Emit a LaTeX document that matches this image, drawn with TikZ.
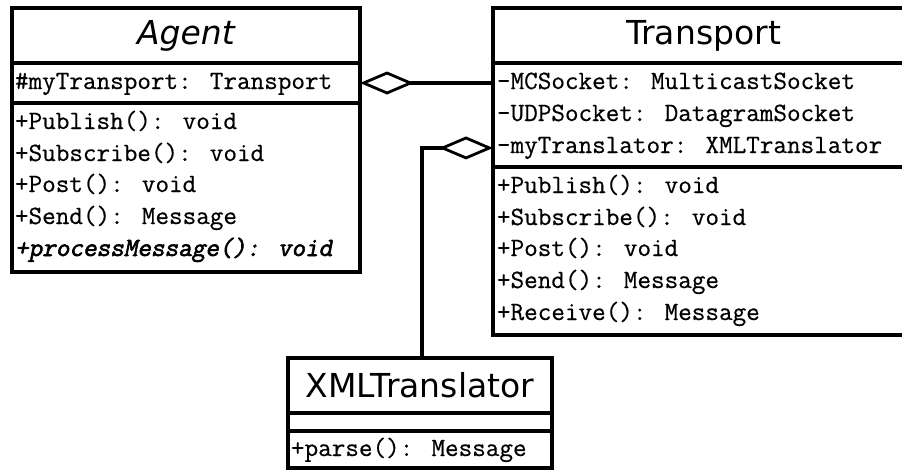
\documentclass[tikz,border=0pt]{standalone}
\usepackage{fontspec}
\usetikzlibrary{arrows.meta}
\newfontfamily\titlefont{DejaVu Sans}
\newfontfamily\memberfont[FakeBold=0.5]{Latin Modern Mono}
\newfontfamily\memberboldit[FakeBold=2.2, FakeSlant=0.2]{Latin Modern Mono}

\tikzset{
  umlbox/.style={draw, line width=3.2pt, rectangle, anchor=north west,
                 inner sep=0pt, outer sep=0pt},
  classname/.style={font=\titlefont\fontsize{33}{38}\selectfont},
  member/.style={anchor=base west, inner sep=0pt, outer sep=0pt,
                 font=\memberfont\fontsize{26.4}{30}\selectfont},
  aggregation/.style={line width=3.2pt,
    -{Diamond[open, length=54pt, width=23pt, line width=2.8pt]}},
}

\begin{document}
\begin{tikzpicture}[x=1pt, y=-1pt]
\useasboundingbox (0,0) rectangle (902,469);
\clip (0,0) rectangle (902,469);
\fill[white] (0,0) rectangle (902,469);

% ---- class Agent (abstract) ----
\node[umlbox, classname, minimum width=348pt, minimum height=55pt] (Atitle) at (12,8) {\itshape Agent};
\node[umlbox, minimum width=348pt, minimum height=40pt] (Aattr) at (Atitle.south west) {};
\node[umlbox, minimum width=348pt, minimum height=169pt] (Aops) at (Aattr.south west) {};
\node[member] (a0) at (15,89) {\#myTransport: Transport};
\node[member] (a1) at (15,129) {+Publish(): void};
\node[member] (a2) at (15,161) {+Subscribe(): void};
\node[member] (a3) at (15,192) {+Post(): void};
\node[member] (a4) at (15,224) {+Send(): Message};
\node[member, font=\memberboldit\fontsize{26.4}{30}\selectfont] (a5) at (15,256) {+processMessage(): void};

% ---- class Transport ----
\node[umlbox, classname, minimum width=421pt, minimum height=55pt] (Ttitle) at (493,8) {Transport};
\node[umlbox, minimum width=421pt, minimum height=104pt] (Tattr) at (Ttitle.south west) {};
\node[umlbox, minimum width=421pt, minimum height=168pt] (Tops) at (Tattr.south west) {};
\node[member] (t1) at (497,89) {-MCSocket: MulticastSocket};
\node[member] (t2) at (497,121) {-UDPSocket: DatagramSocket};
\node[member] (t3) at (497,153) {-myTranslator: XMLTranslator};
\node[member] (t4) at (497,193) {+Publish(): void};
\node[member] (t5) at (497,225) {+Subscribe(): void};
\node[member] (t6) at (497,256) {+Post(): void};
\node[member] (t7) at (497,288) {+Send(): Message};
\node[member] (t8) at (497,320) {+Receive(): Message};

% ---- class XMLTranslator ----
\node[umlbox, classname, minimum width=264pt, minimum height=55pt] (Xtitle) at (288,358) {XMLTranslator};
\node[umlbox, minimum width=264pt, minimum height=18pt] (Xattr) at (Xtitle.south west) {};
\node[umlbox, minimum width=264pt, minimum height=37pt] (Xops) at (Xattr.south west) {};
\node[member] (x1) at (291,456) {+parse(): Message};

% ---- aggregations ----
\draw[aggregation] (Tattr.west |- Aattr.east) -- (Aattr.east);
\draw[aggregation] ([xshift=2pt]Xtitle.north) |- (Tattr.west |- t3);
\end{tikzpicture}
\end{document}
